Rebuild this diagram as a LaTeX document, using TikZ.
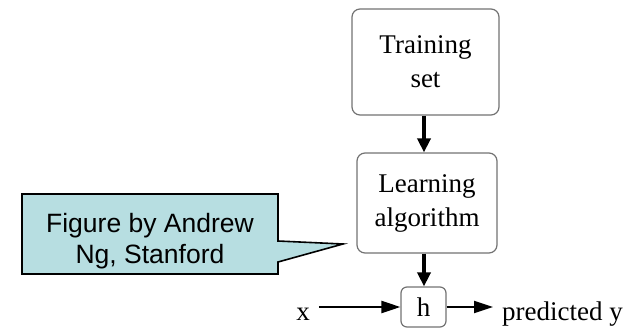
\documentclass[tikz,border=0pt]{standalone}
\usepackage{fontspec}
\setmainfont{Liberation Serif}
\newfontfamily\arialf{Liberation Sans}
\usetikzlibrary{arrows.meta}
\definecolor{calloutfill}{RGB}{183,222,225}
\definecolor{boxline}{RGB}{115,115,115}
\begin{document}
\begin{tikzpicture}[x=1pt,y=-1pt,
  box/.style={draw=boxline, rounded corners=8pt, line width=1.2pt, fill=white,
    align=center, font=\fontsize{27}{34}\selectfont, inner sep=0pt},
  lbl/.style={font=\fontsize{27}{32}\selectfont, inner ysep=0pt, inner xsep=9pt},
  flow/.style={-{Triangle[length=14pt,width=13pt]}, line width=3.8pt},
  io/.style={-{Triangle[length=19pt,width=12pt]}, line width=2.2pt},
  callout/.style={draw=black, line width=1.6pt, fill=calloutfill, line join=miter}
]
\useasboundingbox (0,0) rectangle (637,329);

% boxes
\node[box, minimum width=147pt, minimum height=106pt] (train) at (425.5,62) {Training\\set};
\node[box, minimum width=140pt, minimum height=100pt] (learn) at (427,203) {Learning\\algorithm};
\node[box, rounded corners=6pt, minimum width=45pt, minimum height=40pt] (h) at (423.5,307) {h};

% input / output labels
\node[lbl, anchor=base] (x) at (303,320) {x};
\node[lbl, anchor=base west] (py) at (493,320) {predicted y};

% connectors
\draw[flow] (train.south -| 424,0) -- (learn.north -| 424,0);
\draw[flow] (learn.south -| 424,0) -- (h.north -| 424,0);
\draw[io] (x.east |- h.center) -- (h.west);
\draw[io] (h.east) -- (h.east -| py.west);

% callout
\coordinate (tip) at (343,244);
\draw[callout] (22,194) -- (278,194) -- (278,241) -- (tip) -- (278,262)
  -- (278,274) -- (22,274) -- cycle;
\node[font=\arialf\fontsize{26.5}{31}\selectfont, align=center, inner sep=0pt] (note) at (150,241)
  {Figure by Andrew\\Ng, Stanford};
\end{tikzpicture}
\end{document}
